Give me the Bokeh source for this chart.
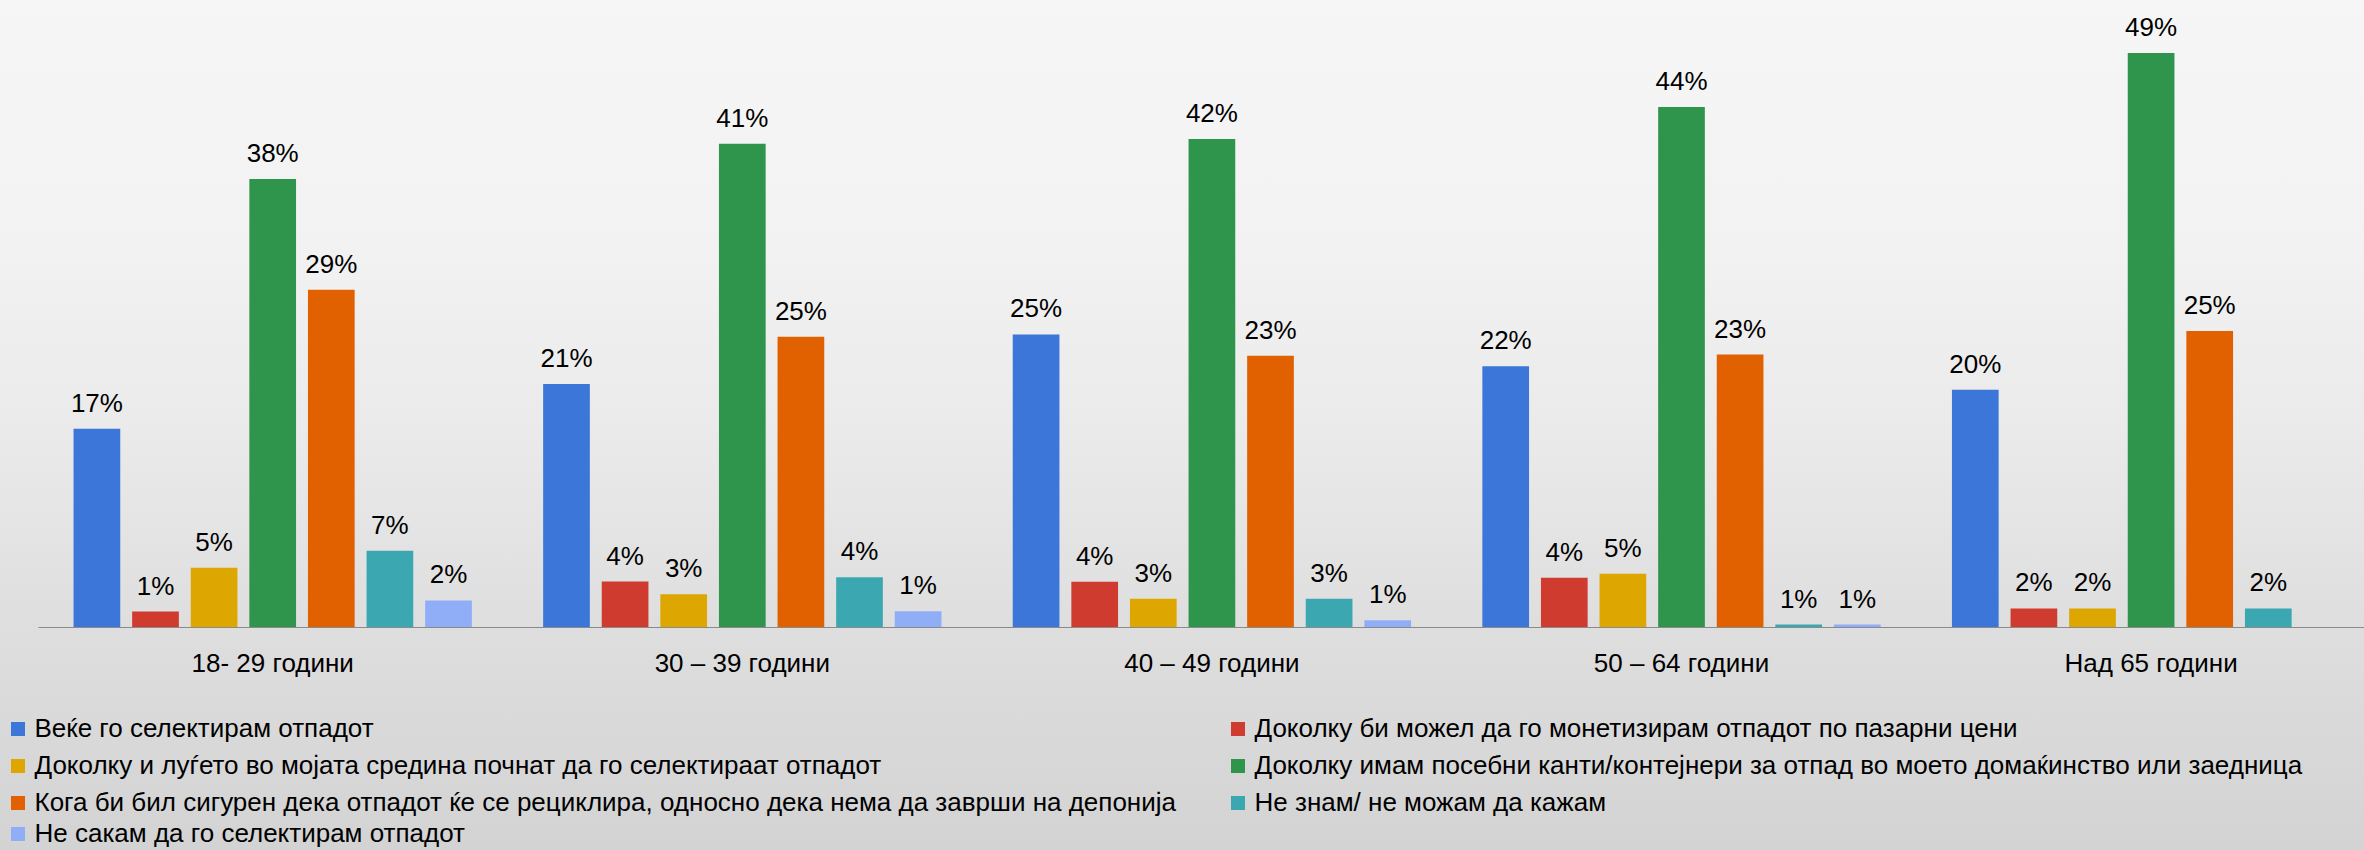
import math
from bokeh.plotting import figure
from bokeh.models import Range1d, Legend, LegendItem, FixedTicker
from bokeh.core.properties import value
from bokeh.embed import file_html
from bokeh.resources import INLINE

# ---------------- data ----------------
categories = ["18- 29 години", "30 – 39 години", "40 – 49 години",
              "50 – 64 години", "Над 65 години"]

series_names = [
    "Веќе го селектирам отпадот",
    "Доколку би можел да го монетизирам отпадот по пазарни цени",
    "Доколку и луѓето во мојата средина почнат да го селектираат отпадот",
    "Доколку имам посебни канти/контејнери за отпад во моето домаќинство или заедница",
    "Кога би бил сигурен дека отпадот ќе се рециклира, односно дека нема да заврши на депонија",
    "Не знам/ не можам да кажам",
    "Не сакам да го селектирам отпадот",
]

# bar heights (percent)
already_select = [16.9, 20.7, 24.9, 22.2, 20.2]
monetize = [1.38, 3.93, 3.9, 4.24, 1.64]
others_start = [5.09, 2.85, 2.46, 4.58, 1.64]
special_bins = [38.1, 41.1, 41.5, 44.2, 48.8]
sure_recycled = [28.7, 24.7, 23.1, 23.2, 25.2]
dont_know = [6.54, 4.3, 2.46, 0.28, 1.64]
dont_want = [2.32, 1.41, 0.65, 0.28, float("nan")]

# data labels as printed on the chart
already_select_lbl = ["17%", "21%", "25%", "22%", "20%"]
monetize_lbl = ["1%", "4%", "4%", "4%", "2%"]
others_start_lbl = ["5%", "3%", "3%", "5%", "2%"]
special_bins_lbl = ["38%", "41%", "42%", "44%", "49%"]
sure_recycled_lbl = ["29%", "25%", "23%", "23%", "25%"]
dont_know_lbl = ["7%", "4%", "3%", "1%", "2%"]
dont_want_lbl = ["2%", "1%", "1%", "1%", ""]

colors = ["#3B76D8", "#D03B2F", "#DEA600", "#2F954C", "#E16100", "#3BA8B1", "#90AEF8"]

all_values = [already_select, monetize, others_start, special_bins,
              sure_recycled, dont_know, dont_want]
all_labels = [already_select_lbl, monetize_lbl, others_start_lbl, special_bins_lbl,
              sure_recycled_lbl, dont_know_lbl, dont_want_lbl]

# ---------------- figure ----------------
FONT = "Liberation Sans"
BAR_STEP = 0.12479
BAR_W = 0.09945
GROUP_PX = 469.6
PX_PER_PCT = 11.78
W, H = 2364, 850
BASE_Y = 627.3  # screen y of the zero line
X0 = -272.2 / GROUP_PX

p = figure(frame_width=W, frame_height=H,
           x_range=Range1d(X0, X0 + W / GROUP_PX),
           y_range=Range1d(-(H - BASE_Y) / PX_PER_PCT, BASE_Y / PX_PER_PCT),
           output_backend="svg", toolbar_location=None, y_axis_location=None,
           min_border_left=0, min_border_right=0, min_border_top=0,
           min_border_bottom=0)
p.background_fill_color = None
p.border_fill_color = None
p.outline_line_color = None
p.xgrid.visible = False
p.ygrid.visible = False
p.styles = {"background": "linear-gradient(to bottom, #f6f6f6 0%, #f2f2f2 29%, "
                          "#eaeaea 51%, #dedede 74%, #d3d3d3 100%)"}

dummies = []
for i, (vals, lbls, c) in enumerate(zip(all_values, all_labels, colors)):
    xs = [g + (i - 3) * BAR_STEP for g in range(len(categories))]
    p.vbar(x=xs, top=vals, width=BAR_W, fill_color=c, line_color=None)
    p.text(x=xs, y=vals, text=lbls, text_align="center", text_baseline="alphabetic",
           y_offset=-26, text_font=value(FONT), text_font_size="26px", text_color="black")
    # legend swatch renderer (its point lies outside the visible range)
    dummies.append(p.scatter(x=[-10], y=[-100], marker="square", fill_color=c, line_color=None))

ax = p.xaxis[0]
ax.fixed_location = 0
ax.bounds = (X0 + 37.7 / GROUP_PX, X0 + W / GROUP_PX)
ax.ticker = FixedTicker(ticks=list(range(len(categories))))
ax.major_label_overrides = {i: c for i, c in enumerate(categories)}
ax.axis_line_color = "#8a8a8a"
ax.axis_line_width = 1
ax.major_tick_line_color = None
ax.minor_tick_line_color = None
ax.major_tick_in = 0
ax.major_tick_out = 0
ax.major_label_standoff = 20
ax.major_label_text_font = FONT
ax.major_label_text_font_size = "26px"
ax.major_label_text_color = "black"


def make_legend(idx, loc):
    lg = Legend(items=[LegendItem(label=series_names[i], renderers=[dummies[i]]) for i in idx],
                location=loc, orientation="vertical", glyph_width=35, glyph_height=35,
                label_height=35, label_standoff=-4, spacing=2, padding=0, margin=0,
                border_line_color=None, background_fill_alpha=0,
                label_text_font=FONT, label_text_font_size="26px", label_text_color="black")
    p.add_layout(lg)


make_legend([0, 2, 4], (-0.5, 30.5))
make_legend([6], (-0.5, -0.5))
make_legend([1, 3, 5], (1219.5, 30.5))

open("out.html", "w").write(file_html(p, INLINE))
